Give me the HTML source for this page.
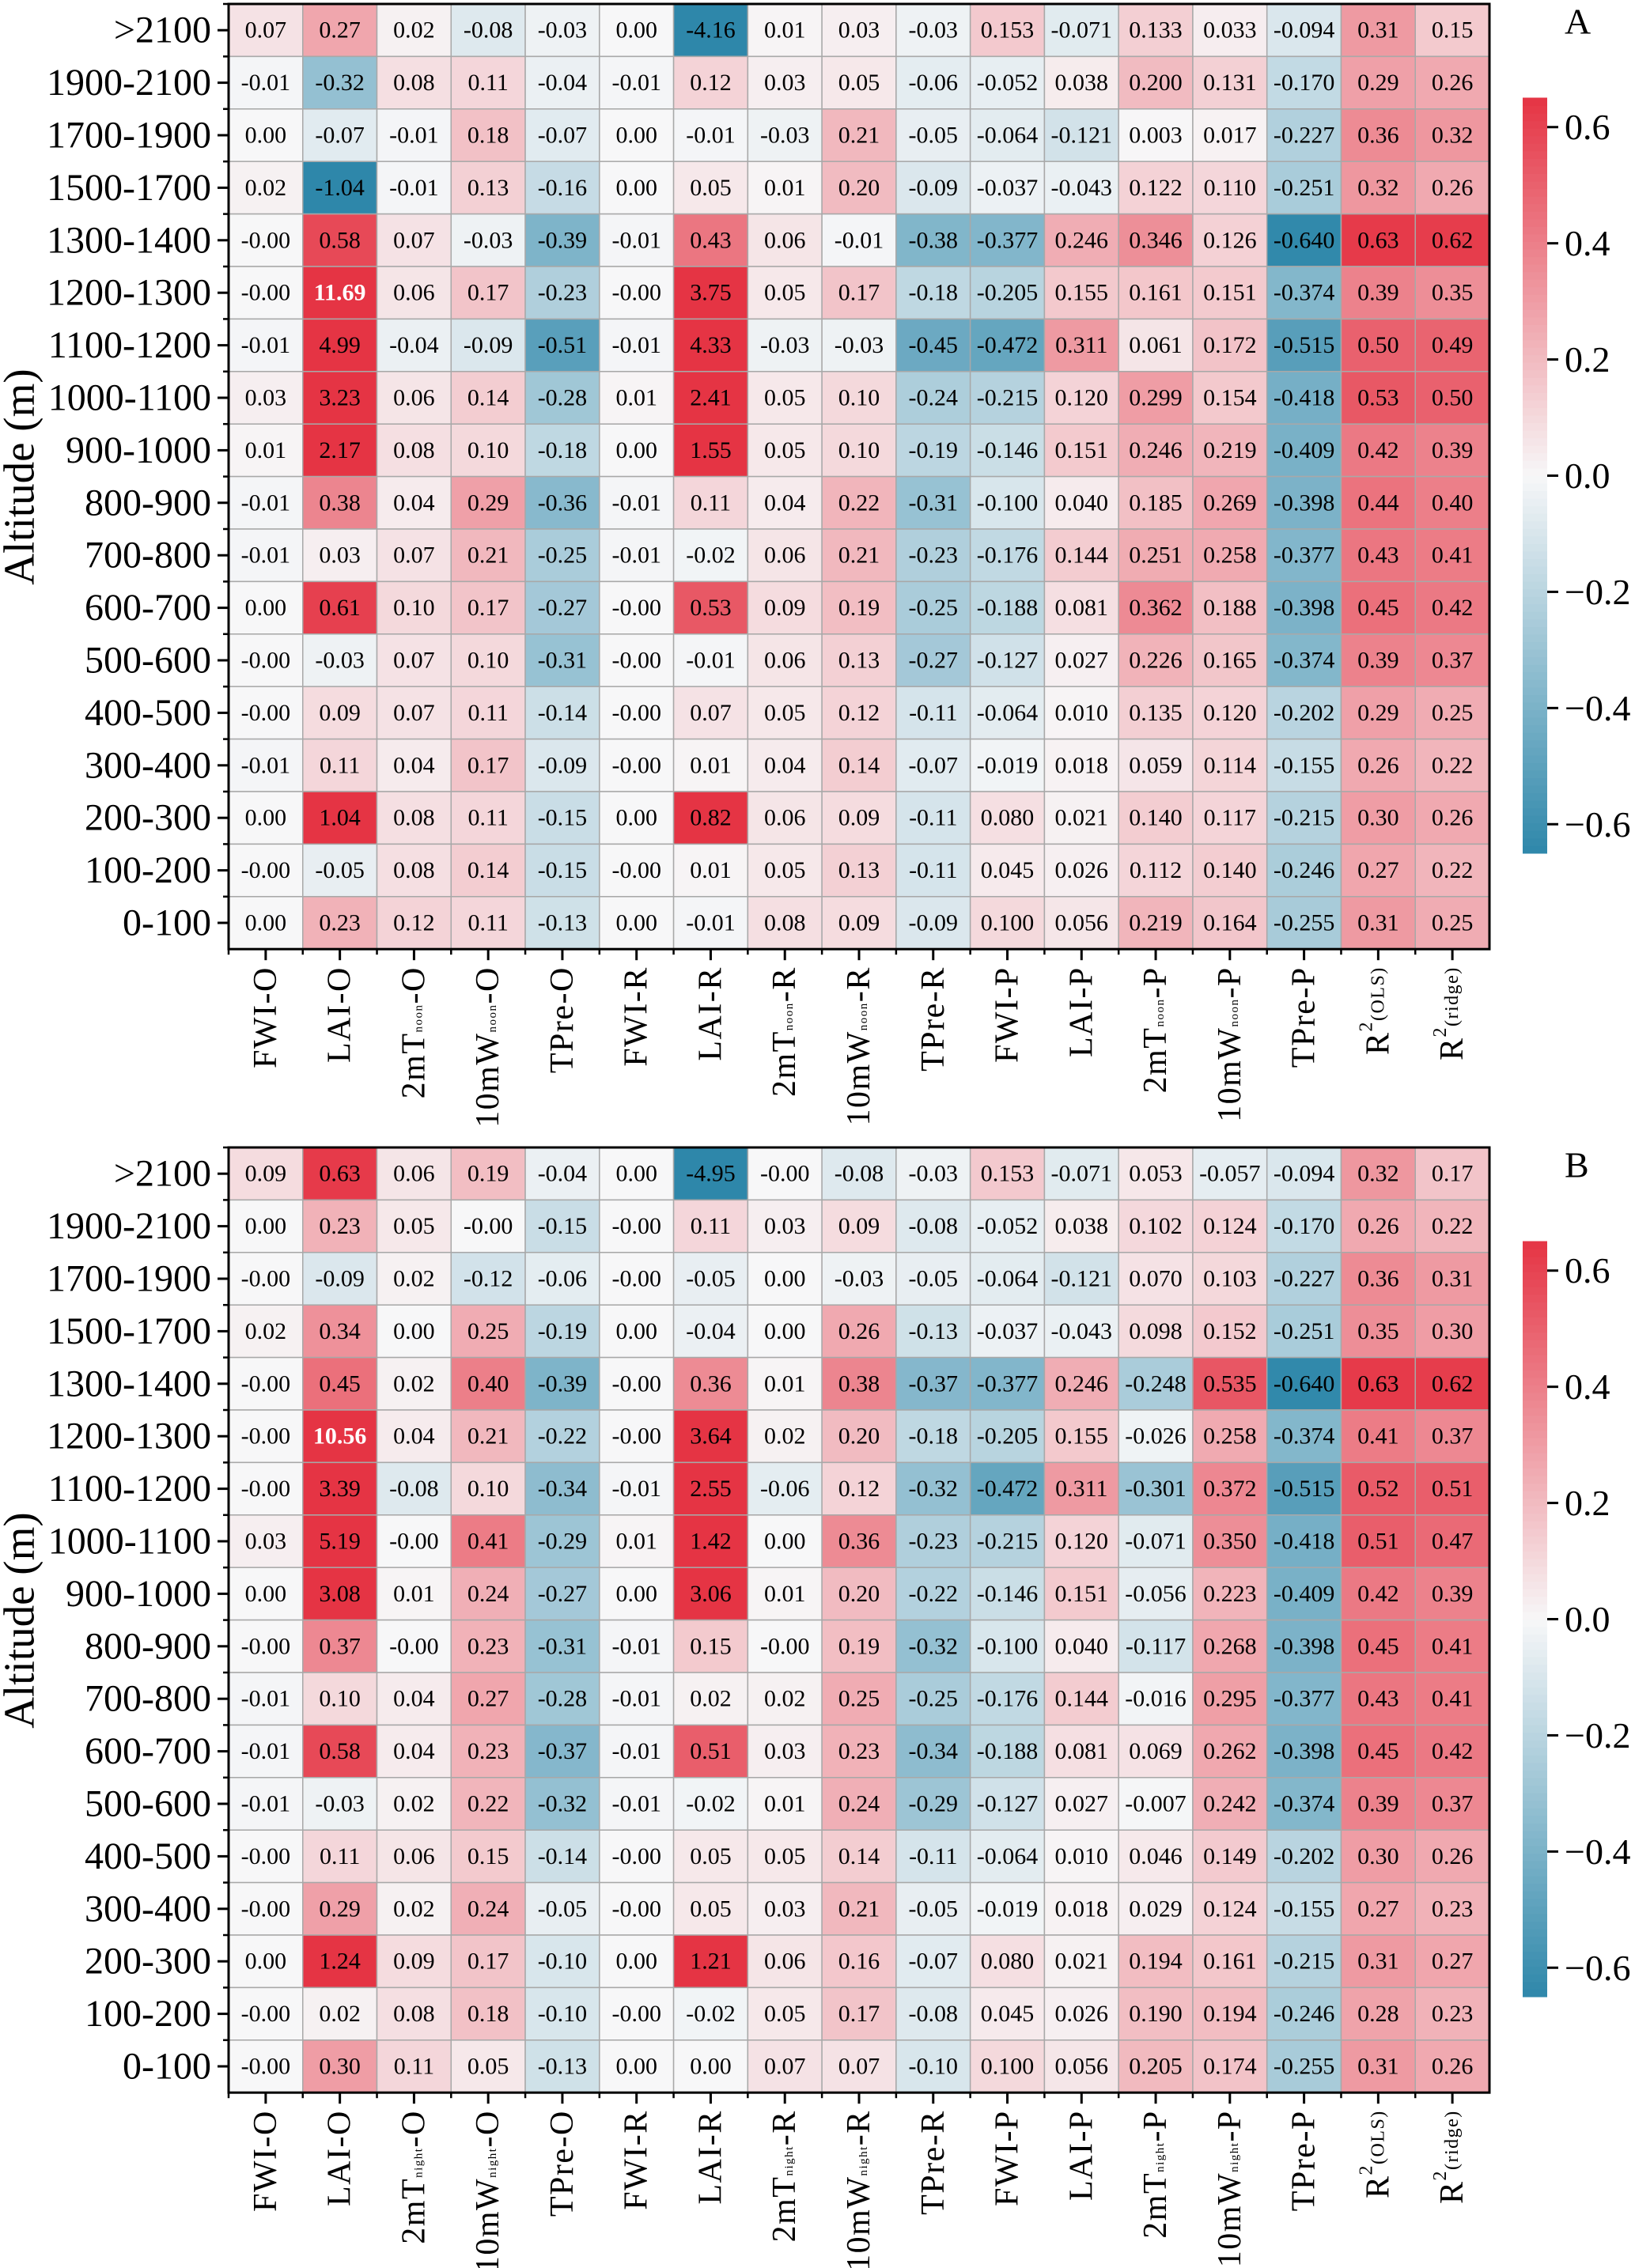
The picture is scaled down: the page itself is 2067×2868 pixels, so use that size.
<!DOCTYPE html>
<html><head><meta charset="utf-8"><style>
html,body{margin:0;padding:0;background:#fff;}
svg{display:block;font-family:"Liberation Serif","DejaVu Serif",serif;}
</style></head><body>
<svg id="fig" width="2067" height="2868" viewBox="0 0 2067 2868" xmlns="http://www.w3.org/2000/svg"></svg>
<script>
const rowLabels = [">2100","1900-2100","1700-1900","1500-1700","1300-1400","1200-1300","1100-1200","1000-1100","900-1000","800-900","700-800","600-700","500-600","400-500","300-400","200-300","100-200","0-100"];
const colKeysA = ["FWI-O","LAI-O","2mT|noon|-O","10mW|noon|-O","TPre-O","FWI-R","LAI-R","2mT|noon|-R","10mW|noon|-R","TPre-R","FWI-P","LAI-P","2mT|noon|-P","10mW|noon|-P","TPre-P","R2OLS","R2ridge"];
const colKeysB = ["FWI-O","LAI-O","2mT|night|-O","10mW|night|-O","TPre-O","FWI-R","LAI-R","2mT|night|-R","10mW|night|-R","TPre-R","FWI-P","LAI-P","2mT|night|-P","10mW|night|-P","TPre-P","R2OLS","R2ridge"];
const decimals = [2,2,2,2,2,2,2,2,2,2,3,3,3,3,3,2,2];
const cbTicks = [-0.6,-0.4,-0.2,0.0,0.2,0.4,0.6];
const N = -0.001; // printed as -0.00
const valuesA = [
[0.07,0.27,0.02,-0.08,-0.03,0,-4.16,0.01,0.03,-0.03,0.153,-0.071,0.133,0.033,-0.094,0.31,0.15],
[-0.01,-0.32,0.08,0.11,-0.04,-0.01,0.12,0.03,0.05,-0.06,-0.052,0.038,0.200,0.131,-0.170,0.29,0.26],
[0,-0.07,-0.01,0.18,-0.07,0,-0.01,-0.03,0.21,-0.05,-0.064,-0.121,0.003,0.017,-0.227,0.36,0.32],
[0.02,-1.04,-0.01,0.13,-0.16,0,0.05,0.01,0.20,-0.09,-0.037,-0.043,0.122,0.110,-0.251,0.32,0.26],
[N,0.58,0.07,-0.03,-0.39,-0.01,0.43,0.06,-0.01,-0.38,-0.377,0.246,0.346,0.126,-0.640,0.63,0.62],
[N,11.69,0.06,0.17,-0.23,N,3.75,0.05,0.17,-0.18,-0.205,0.155,0.161,0.151,-0.374,0.39,0.35],
[-0.01,4.99,-0.04,-0.09,-0.51,-0.01,4.33,-0.03,-0.03,-0.45,-0.472,0.311,0.061,0.172,-0.515,0.50,0.49],
[0.03,3.23,0.06,0.14,-0.28,0.01,2.41,0.05,0.10,-0.24,-0.215,0.120,0.299,0.154,-0.418,0.53,0.50],
[0.01,2.17,0.08,0.10,-0.18,0,1.55,0.05,0.10,-0.19,-0.146,0.151,0.246,0.219,-0.409,0.42,0.39],
[-0.01,0.38,0.04,0.29,-0.36,-0.01,0.11,0.04,0.22,-0.31,-0.100,0.040,0.185,0.269,-0.398,0.44,0.40],
[-0.01,0.03,0.07,0.21,-0.25,-0.01,-0.02,0.06,0.21,-0.23,-0.176,0.144,0.251,0.258,-0.377,0.43,0.41],
[0,0.61,0.10,0.17,-0.27,N,0.53,0.09,0.19,-0.25,-0.188,0.081,0.362,0.188,-0.398,0.45,0.42],
[N,-0.03,0.07,0.10,-0.31,N,-0.01,0.06,0.13,-0.27,-0.127,0.027,0.226,0.165,-0.374,0.39,0.37],
[N,0.09,0.07,0.11,-0.14,N,0.07,0.05,0.12,-0.11,-0.064,0.010,0.135,0.120,-0.202,0.29,0.25],
[-0.01,0.11,0.04,0.17,-0.09,N,0.01,0.04,0.14,-0.07,-0.019,0.018,0.059,0.114,-0.155,0.26,0.22],
[0,1.04,0.08,0.11,-0.15,0,0.82,0.06,0.09,-0.11,0.080,0.021,0.140,0.117,-0.215,0.30,0.26],
[N,-0.05,0.08,0.14,-0.15,N,0.01,0.05,0.13,-0.11,0.045,0.026,0.112,0.140,-0.246,0.27,0.22],
[0,0.23,0.12,0.11,-0.13,0,-0.01,0.08,0.09,-0.09,0.100,0.056,0.219,0.164,-0.255,0.31,0.25]];
const valuesB = [
[0.09,0.63,0.06,0.19,-0.04,0,-4.95,N,-0.08,-0.03,0.153,-0.071,0.053,-0.057,-0.094,0.32,0.17],
[0,0.23,0.05,N,-0.15,N,0.11,0.03,0.09,-0.08,-0.052,0.038,0.102,0.124,-0.170,0.26,0.22],
[N,-0.09,0.02,-0.12,-0.06,N,-0.05,0,-0.03,-0.05,-0.064,-0.121,0.070,0.103,-0.227,0.36,0.31],
[0.02,0.34,0,0.25,-0.19,0,-0.04,0,0.26,-0.13,-0.037,-0.043,0.098,0.152,-0.251,0.35,0.30],
[N,0.45,0.02,0.40,-0.39,N,0.36,0.01,0.38,-0.37,-0.377,0.246,-0.248,0.535,-0.640,0.63,0.62],
[N,10.56,0.04,0.21,-0.22,N,3.64,0.02,0.20,-0.18,-0.205,0.155,-0.026,0.258,-0.374,0.41,0.37],
[N,3.39,-0.08,0.10,-0.34,-0.01,2.55,-0.06,0.12,-0.32,-0.472,0.311,-0.301,0.372,-0.515,0.52,0.51],
[0.03,5.19,N,0.41,-0.29,0.01,1.42,0,0.36,-0.23,-0.215,0.120,-0.071,0.350,-0.418,0.51,0.47],
[0,3.08,0.01,0.24,-0.27,0,3.06,0.01,0.20,-0.22,-0.146,0.151,-0.056,0.223,-0.409,0.42,0.39],
[N,0.37,N,0.23,-0.31,-0.01,0.15,N,0.19,-0.32,-0.100,0.040,-0.117,0.268,-0.398,0.45,0.41],
[-0.01,0.10,0.04,0.27,-0.28,-0.01,0.02,0.02,0.25,-0.25,-0.176,0.144,-0.016,0.295,-0.377,0.43,0.41],
[-0.01,0.58,0.04,0.23,-0.37,-0.01,0.51,0.03,0.23,-0.34,-0.188,0.081,0.069,0.262,-0.398,0.45,0.42],
[-0.01,-0.03,0.02,0.22,-0.32,-0.01,-0.02,0.01,0.24,-0.29,-0.127,0.027,-0.007,0.242,-0.374,0.39,0.37],
[N,0.11,0.06,0.15,-0.14,N,0.05,0.05,0.14,-0.11,-0.064,0.010,0.046,0.149,-0.202,0.30,0.26],
[N,0.29,0.02,0.24,-0.05,N,0.05,0.03,0.21,-0.05,-0.019,0.018,0.029,0.124,-0.155,0.27,0.23],
[0,1.24,0.09,0.17,-0.10,0,1.21,0.06,0.16,-0.07,0.080,0.021,0.194,0.161,-0.215,0.31,0.27],
[N,0.02,0.08,0.18,-0.10,N,-0.02,0.05,0.17,-0.08,0.045,0.026,0.190,0.194,-0.246,0.28,0.23],
[N,0.30,0.11,0.05,-0.13,0,0,0.07,0.07,-0.10,0.100,0.056,0.205,0.174,-0.255,0.31,0.26]];

const NS="http://www.w3.org/2000/svg";
const svg=document.getElementById('fig');
const VMAX=0.65;
const L=289,R=1883,CW=(R-L)/17,RH=66.4;
function mk(t,a,p){const e=document.createElementNS(NS,t);for(const k in a)e.setAttribute(k,a[k]);(p||svg).appendChild(e);return e;}
function color(v){let t=Math.max(-1,Math.min(1,v/VMAX));const c=[247,247,248];let e=t>=0?[229,52,68]:[46,135,170];t=Math.abs(t);
 return `rgb(${Math.round(c[0]+(e[0]-c[0])*t)},${Math.round(c[1]+(e[1]-c[1])*t)},${Math.round(c[2]+(e[2]-c[2])*t)})`;}

function panel(top,values,keys,letter,pname){
 const g=mk('g',{});
 
 
 const xS=j=>L+j*CW, yS=i=>top+i*RH;
 values.forEach((row,i)=>row.forEach((v,j)=>{
  const r=mk('rect',{x:xS(j),y:yS(i),width:CW,height:RH,fill:color(v),stroke:'#a8a8a8','stroke-width':1.5},g);
  
  
  const big=v>10;
  const t=mk('text',{x:xS(j)+CW/2,y:yS(i)+RH/2,'text-anchor':'middle','dominant-baseline':'central','font-size':30,fill:big?'#fff':'#000','font-weight':big?'bold':'normal'},g);
  t.textContent=v.toFixed(decimals[j]);
  
  
 }));
 const bottom=yS(18);
 mk('rect',{x:L,y:top,width:R-L,height:bottom-top,fill:'none',stroke:'#000','stroke-width':3},g);
 rowLabels.forEach((lab,i)=>{
  const cy=yS(i)+RH/2;
  mk('line',{x1:L-14,x2:L,y1:cy,y2:cy,stroke:'#000','stroke-width':3},g);
  mk('line',{x1:L-7,x2:L,y1:yS(i),y2:yS(i),stroke:'#000','stroke-width':2.5},g);
  const t=mk('text',{x:L-22,y:cy,'text-anchor':'end','dominant-baseline':'central','font-size':48},g);
  t.textContent=lab;
  
  
 });
 const yl=mk('text',{x:0,y:0,transform:`translate(24,${top+598}) rotate(-90)`,'text-anchor':'middle','dominant-baseline':'central','font-size':55},g);
 yl.textContent='Altitude (m)';
 
 
 keys.forEach((k,j)=>{
  const cx=xS(j)+CW/2;
  mk('line',{x1:cx,x2:cx,y1:bottom,y2:bottom+14,stroke:'#000','stroke-width':3},g);
  mk('line',{x1:xS(j),x2:xS(j),y1:bottom,y2:bottom+7,stroke:'#000','stroke-width':2.5},g);
  const t=mk('text',{x:0,y:0,transform:`translate(${cx},${bottom+22}) rotate(-90)`,'text-anchor':'end','dominant-baseline':'central','font-size':42,'letter-spacing':'1.5'},g);
  
  
  if(k.startsWith('R2')){
   const s=k.slice(2);
   t.appendChild(document.createTextNode('R'));
   const a=mk('tspan',{'font-size':24,dy:-15},t);a.textContent='2';
   const b=mk('tspan',{'font-size':24,dy:15},t);b.textContent='('+(s==='OLS'?'OLS':'ridge')+')';
  } else if(k.includes('|')){
   const p=k.split('|');
   t.appendChild(document.createTextNode(p[0]));
   const a=mk('tspan',{'font-size':15,dy:6},t);a.textContent=p[1];
   const b=mk('tspan',{dy:-6},t);b.textContent=p[2];
  } else t.textContent=k;
 });
 const cbT=top+119,cbB=top+1074,cbX=1925,cbW=31;
 const cy=v=>cbB-(v+VMAX)/(2*VMAX)*(cbB-cbT);
 const nSteps=100;
 for(let s=0;s<nSteps;s++){
  const v0=-VMAX+s*(2*VMAX/nSteps);
  mk('rect',{x:cbX,y:cy(v0+2*VMAX/nSteps)-0.5,width:cbW,height:(cbB-cbT)/nSteps+1,fill:color(v0+VMAX/nSteps)},g);
 }
 cbTicks.forEach(v=>{
  mk('line',{x1:cbX+cbW,x2:cbX+cbW+14,y1:cy(v),y2:cy(v),stroke:'#000','stroke-width':3},g);
  const t=mk('text',{x:cbX+cbW+22,y:cy(v),'dominant-baseline':'central','font-size':46},g);
  t.textContent=(v<0?'\u2212':'')+Math.abs(v).toFixed(1);
  
  
 });
 const lt=mk('text',{x:1978,y:top+22,'dominant-baseline':'central','font-size':46},g);
 lt.textContent=letter;
 
 
}
panel(5,valuesA,colKeysA,'A','panel-a-noon');
panel(1451,valuesB,colKeysB,'B','panel-b-night');
</script>
</body></html>
